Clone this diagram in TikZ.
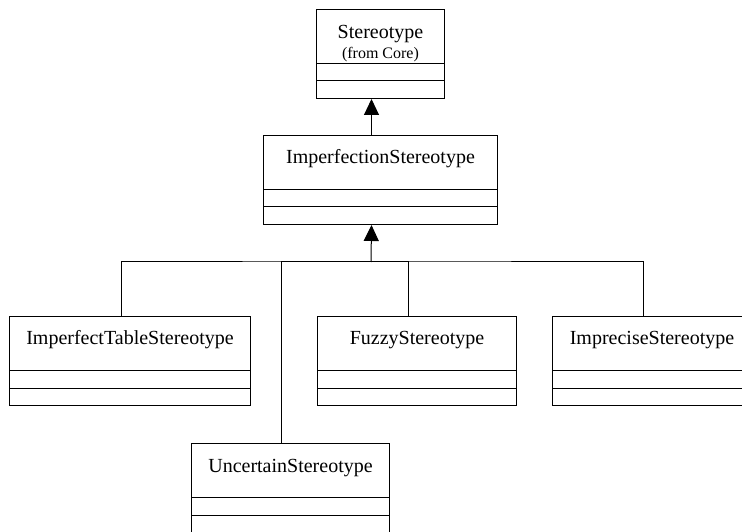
\documentclass[tikz,border=0pt]{standalone}
\usepackage{fontspec}
\setmainfont{Liberation Serif}
\usetikzlibrary{shapes.multipart,arrows.meta}
\tikzset{
  classbox/.style={draw, rectangle split, rectangle split parts=3, inner xsep=0pt, inner ysep=0pt,
    anchor=north west, line width=1pt, font=\fontsize{20}{24}\selectfont},
  gen/.style={line width=1pt, -{Triangle[width=15pt,length=16pt]}},
  bus/.style={line width=1pt}
}
\newcommand{\umlname}[1]{\rule[-25pt]{0pt}{53pt}#1\nodepart{two}\rule{0pt}{16.5pt}\nodepart{three}\rule{0pt}{16.5pt}}
\begin{document}
\begin{tikzpicture}[x=1pt,y=1pt]
            \clip (0,0) rectangle (742,531);
            % classes
            \node[classbox,minimum width=128pt] (stereo) at (316,522)
                {\rule[-24.5pt]{0pt}{53pt}\smash{\begin{tabular}[t]{@{}c@{}}Stereotype\\[-3.5pt]\fontsize{16}{19}\selectfont(from Core)\end{tabular}}\nodepart{two}\rule{0pt}{16.5pt}\nodepart{three}\rule{0pt}{16.5pt}};
            \node[classbox,minimum width=234pt] (imperf) at (263,396) {\umlname{ImperfectionStereotype}};
            \node[classbox,minimum width=241pt] (table) at (9,215) {\umlname{ImperfectTableStereotype}};
            \node[classbox,minimum width=199pt] (fuzzy) at (317,215) {\umlname{FuzzyStereotype}};
            \node[classbox,minimum width=199pt] (imprecise) at (552,215) {\umlname{ImpreciseStereotype}};
            \node[classbox,minimum width=198pt] (uncertain) at (191,88) {\umlname{UncertainStereotype}};
            % generalizations
            \draw[gen] ([xshift=-9pt]imperf.north) -- ([xshift=-9pt]stereo.south);
            \coordinate (junction) at (371,269);
            \draw[bus] ([xshift=-9pt]table.north) |- (junction) -| ([xshift=-9pt]imprecise.north); % common line
            \draw[bus] ([xshift=-9pt]uncertain.north) |- (junction);
            \draw[bus] ([xshift=-9pt]fuzzy.north) |- (junction);
            \draw[gen] (junction) -- ([xshift=-9pt]imperf.south);
\end{tikzpicture}
\end{document}
